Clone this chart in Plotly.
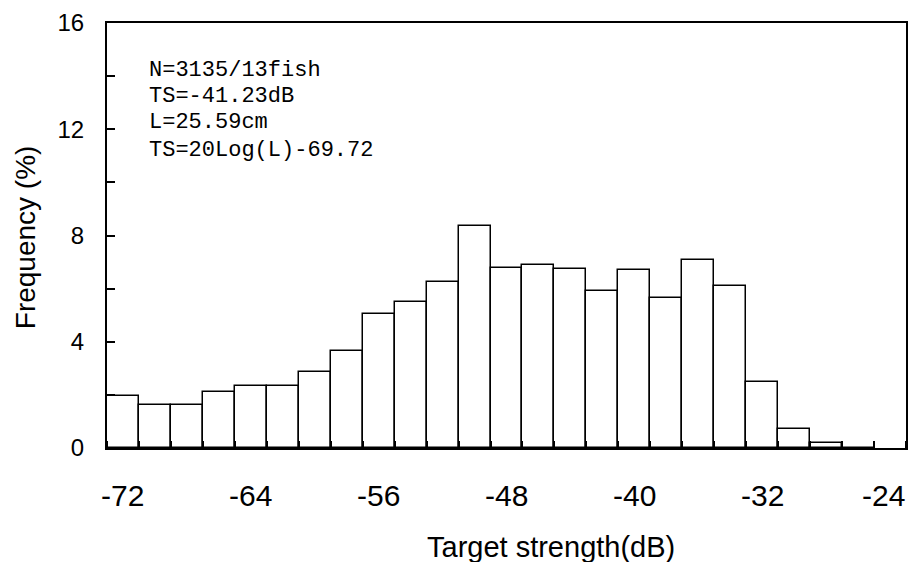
import plotly.graph_objects as go

# Data
bin_centers = [-72, -70, -68, -66, -64, -62, -60, -58, -56, -54, -52, -50,
               -48, -46, -44, -42, -40, -38, -36, -34, -32, -30, -28, -26]
frequency = [1.96, 1.62, 1.62, 2.10, 2.35, 2.35, 2.86, 3.66, 5.03, 5.51, 6.25, 8.35,
             6.78, 6.89, 6.73, 5.91, 6.71, 5.66, 7.08, 6.10, 2.50, 0.70, 0.18, 0.0]
x_tick_vals = [-72, -64, -56, -48, -40, -32, -24]
y_tick_vals = [0, 4, 8, 12, 16]
info_lines = ["N=3135/13fish", "TS=-41.23dB", "L=25.59cm", "TS=20Log(L)-69.72"]
x_title = "Target strength(dB)"
y_title = "Frequency (%)"

FONT = "Liberation Sans, Arial, sans-serif"

fig = go.Figure()
fig.add_trace(go.Bar(
    x=bin_centers, y=frequency, width=2,
    marker=dict(color="white", line=dict(color="black", width=1.5)),
    showlegend=False,
))

fig.update_layout(
    width=908, height=562,
    margin=dict(l=107, r=2, t=23, b=114, autoexpand=False),
    paper_bgcolor="white", plot_bgcolor="white",
    font=dict(family=FONT, color="black"),
    bargap=0,
)

fig.update_xaxes(
    range=[-73, -23],
    tickvals=x_tick_vals,
    showticklabels=False,
    ticks="",
    showline=True, linecolor="black", linewidth=2, mirror=True,
    showgrid=False, zeroline=False,
    automargin=False,
    minor=dict(ticks="inside", tick0=-73, dtick=2, ticklen=7, tickwidth=2, tickcolor="black"),
)
fig.update_yaxes(
    range=[0, 16],
    tickvals=y_tick_vals,
    ticks="inside", ticklen=8, tickwidth=2, tickcolor="black",
    showline=True, linecolor="black", linewidth=2, mirror=True,
    showgrid=False, zeroline=False,
    automargin=False,
    tickfont=dict(size=24, family=FONT),
    ticklabelstandoff=16,
    minor=dict(ticks="inside", tick0=0, dtick=2, ticklen=8, tickwidth=2, tickcolor="black"),
)

# X tick labels placed on the x scale (last one nudged to stay inside the page)
for i, v in enumerate(x_tick_vals):
    fig.add_annotation(text=str(v), xref="x", yref="paper", x=v, y=0,
                       xanchor="center", yanchor="middle", yshift=-47,
                       xshift=(-7 if i == len(x_tick_vals) - 1 else 0),
                       showarrow=False, font=dict(size=30, family=FONT, color="black"))

# Axis titles as annotations (positioned like the reference)
fig.add_annotation(text=x_title, xref="paper", yref="paper", x=0.556, y=-0.233,
                   xanchor="center", yanchor="middle", showarrow=False,
                   font=dict(size=29, family=FONT, color="black"))
fig.add_annotation(text=y_title, xref="paper", yref="paper", x=-0.1026, y=0.496,
                   xanchor="center", yanchor="middle", showarrow=False, textangle=-90,
                   font=dict(size=28, family=FONT, color="black"))

line_y = [0.889, 0.826, 0.765, 0.699]
for txt, yy in zip(info_lines, line_y):
    fig.add_annotation(text=txt, xref="paper", yref="paper", x=0.05, y=yy,
                       xanchor="left", yanchor="middle", showarrow=False,
                       font=dict(size=22, family="Liberation Mono, DejaVu Sans Mono, monospace", color="black"))

fig.write_html("out.html")
